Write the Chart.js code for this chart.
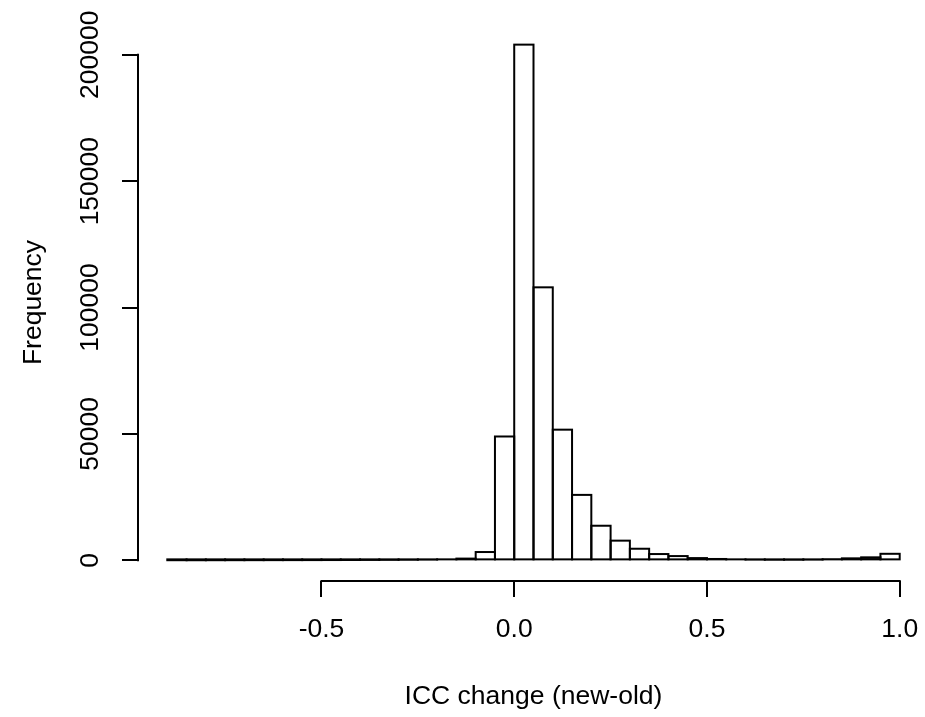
<!DOCTYPE html>
<html><head><meta charset="utf-8">
<script src="https://cdn.jsdelivr.net/npm/chart.js@4/dist/chart.umd.min.js"></script>
<style>
html,body{margin:0;padding:0;background:#fff;overflow:hidden;width:925px;height:717px}
canvas{display:block}
</style>
</head><body>
<canvas id="c" width="929" height="717"></canvas>
<script>
// Histogram bins (lower edges), width 0.05
const binStarts = [-0.90,-0.85,-0.80,-0.75,-0.70,-0.65,-0.60,-0.55,-0.50,-0.45,
                   -0.40,-0.35,-0.30,-0.25,-0.20,-0.15,-0.10,-0.05,0.00,0.05,
                   0.10,0.15,0.20,0.25,0.30,0.35,0.40,0.45,0.50,0.55,
                   0.60,0.65,0.70,0.75,0.80,0.85,0.90,0.95];
const binWidth = 0.05;
const counts = [60,50,60,70,80,90,100,110,130,150,
                170,200,240,300,400,700,3300,49000,204000,108000,
                51700,25900,13700,7800,4600,2500,1700,900,550,400,
                300,250,250,300,450,800,1200,2600];
const xTickValues = [-0.5, 0.0, 0.5, 1.0];
const yTickValues = [0, 50000, 100000, 150000, 200000];
const xTitle = 'ICC change (new-old)';
const yTitle = 'Frequency';

const FONT = 'Liberation Sans, Arial, Helvetica, sans-serif';
const FS = 26.5;

const xSpan = binStarts[binStarts.length-1] + binWidth - binStarts[0];
const xMin = binStarts[0] - 0.04 * xSpan;
const xMax = binStarts[binStarts.length-1] + binWidth + 0.04 * xSpan;
const maxCount = Math.max(...counts);

// R-style: outline each bar rectangle with a centred 2px stroke, and draw
// axis lines only between the first and last tick.
const rStyle = {
  id: 'rStyle',
  afterDatasetsDraw(chart) {
    const {ctx} = chart;
    const meta = chart.getDatasetMeta(0);
    ctx.save();
    ctx.strokeStyle = '#000';
    ctx.lineWidth = 2;
    meta.data.forEach(el => {
      const {x, y, base, width} = el.getProps(['x', 'y', 'base', 'width'], true);
      ctx.strokeRect(x - width / 2, y, width, base - y);
    });
    ctx.restore();
  },
  afterDraw(chart) {
    const {ctx, chartArea, scales: {x, y}} = chart;
    ctx.save();
    ctx.strokeStyle = '#000';
    ctx.lineWidth = 2;
    ctx.lineCap = 'square';
    ctx.beginPath();
    ctx.moveTo(x.getPixelForValue(xTickValues[0]), chartArea.bottom);
    ctx.lineTo(x.getPixelForValue(xTickValues[xTickValues.length-1]), chartArea.bottom);
    ctx.moveTo(chartArea.left, y.getPixelForValue(yTickValues[0]));
    ctx.lineTo(chartArea.left, y.getPixelForValue(yTickValues[yTickValues.length-1]));
    ctx.stroke();
    ctx.restore();
  }
};

new Chart(document.getElementById('c'), {
  type: 'bar',
  data: {
    datasets: [{
      data: binStarts.map((s, i) => ({x: s + binWidth / 2, y: counts[i]})),
      backgroundColor: '#ffffff',
      borderWidth: 0,
      barPercentage: 1.0,
      categoryPercentage: 1.0
    }]
  },
  options: {
    responsive: false,
    animation: false,
    layout: {padding: {top: 24, left: 0, right: 0, bottom: 0}},
    plugins: {legend: {display: false}, tooltip: {enabled: false}},
    scales: {
      x: {
        type: 'linear',
        offset: false,
        min: xMin,
        max: xMax,
        afterBuildTicks: s => { s.ticks = xTickValues.map(v => ({value: v})); },
        afterFit: s => { s.height = 136; s.paddingLeft = 0; s.paddingRight = 0; },
        border: {display: false},
        grid: {display: true, offset: false, drawOnChartArea: false, drawTicks: true, tickLength: 16, color: '#000', lineWidth: 2},
        ticks: {
          color: '#000', padding: 17, maxRotation: 0, autoSkip: false,
          font: {family: FONT, size: FS},
          callback: v => Number(v).toFixed(1)
        },
        title: {display: true, text: xTitle, color: '#000', font: {family: FONT, size: FS}, padding: {top: 0, bottom: 4}}
      },
      y: {
        type: 'linear',
        min: -0.04 * maxCount,
        max: 1.04 * maxCount,
        afterBuildTicks: s => { s.ticks = yTickValues.map(v => ({value: v})); },
        afterFit: s => { s.width = 138; s.paddingTop = 0; s.paddingBottom = 0; },
        border: {display: false},
        grid: {display: true, drawOnChartArea: false, drawTicks: true, tickLength: 16, color: '#000', lineWidth: 2},
        ticks: {
          color: '#000', padding: -12.5, minRotation: 90, maxRotation: 90, crossAlign: 'center', autoSkip: false,
          font: {family: FONT, size: FS},
          callback: v => String(v)
        },
        title: {display: true, text: yTitle, color: '#000', font: {family: FONT, size: FS}, padding: {top: 18, bottom: 0}}
      }
    }
  },
  plugins: [rStyle]
});
</script>
</body></html>
